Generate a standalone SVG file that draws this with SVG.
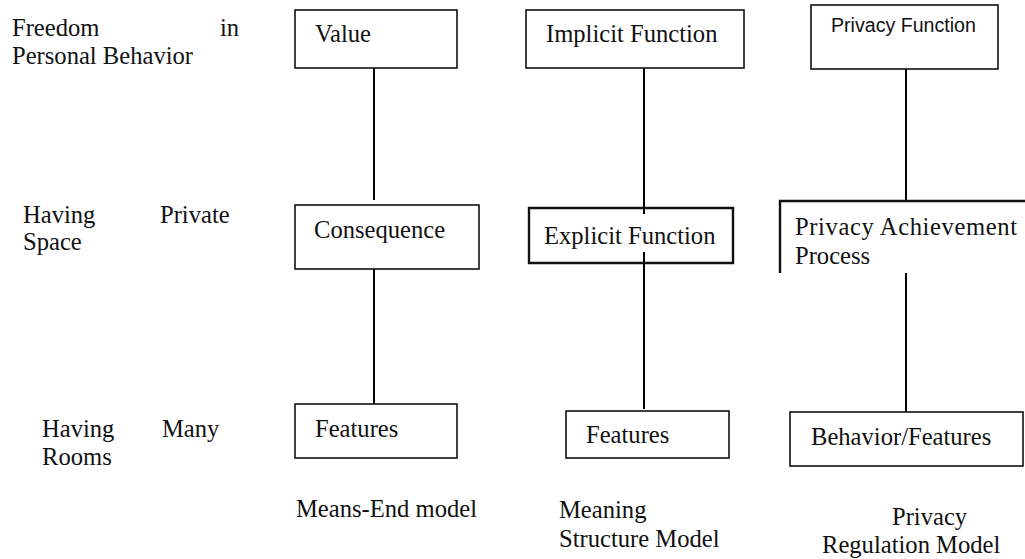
<svg xmlns="http://www.w3.org/2000/svg" width="1025" height="559" viewBox="0 0 1025 559">
<style>
text{font-family:"Liberation Serif",Tinos,"Times New Roman","DejaVu Serif",serif;font-size:24.6px;fill:#111}
text.sans{font-family:"Liberation Sans",Arimo,Arial,sans-serif;font-size:19.6px}
.box{fill:#fff;stroke:#111;stroke-width:1.6}
.conn line{stroke:#000;stroke-width:2}
</style>
<rect width="1025" height="559" fill="#fff"/>
<g id="connectors" class="conn">
<line x1="374" y1="68" x2="374" y2="200"/>
<line x1="374" y1="269" x2="374" y2="404"/>
<line x1="644" y1="68" x2="644" y2="214"/>
<line x1="644" y1="252" x2="644" y2="409"/>
<line x1="906" y1="69" x2="906" y2="201"/>
<line x1="906" y1="273" x2="906" y2="412"/>
</g>
<g id="label-freedom">
<text x="12" y="36">Freedom</text>
<text x="220" y="36">in</text>
<text x="12" y="64">Personal Behavior</text>
</g>
<g id="label-space">
<text x="23" y="223">Having</text>
<text x="160" y="223">Private</text>
<text x="23" y="250">Space</text>
</g>
<g id="label-rooms">
<text x="42" y="437">Having</text>
<text x="162" y="437">Many</text>
<text x="42" y="465">Rooms</text>
</g>
<g id="value">
<rect class="box" x="295" y="10" width="162" height="58"/>
<text x="315" y="42">Value</text>
</g>
<g id="consequence">
<rect class="box" x="295" y="205" width="184" height="64"/>
<text x="314" y="238">Consequence</text>
</g>
<g id="features-me">
<rect class="box" x="295" y="404" width="162" height="54"/>
<text x="315" y="437">Features</text>
</g>
<g id="implicit">
<rect class="box" x="526" y="10" width="218" height="58"/>
<text x="546" y="42">Implicit Function</text>
</g>
<g id="explicit">
<path d="M529,208 H733 V263 H529 Z" fill="none" stroke="#111" stroke-width="2.4"/>
<line x1="644" y1="208" x2="644" y2="214" stroke="#000" stroke-width="2"/>
<line x1="644" y1="252" x2="644" y2="263" stroke="#000" stroke-width="2"/>
<text x="544" y="244">Explicit Function</text>
</g>
<g id="features-ms">
<rect class="box" x="566" y="411" width="163" height="47"/>
<text x="586" y="443">Features</text>
</g>
<g id="privacy-function">
<rect class="box" x="811" y="5" width="187" height="64"/>
<text class="sans" x="831" y="32">Privacy Function</text>
</g>
<g id="achievement">
<path d="M780,273 V201 H1026" fill="none" stroke="#111" stroke-width="2.4"/>
<text x="795" y="235" textLength="222" lengthAdjust="spacing">Privacy  Achievement</text>
<text x="795" y="264">Process</text>
</g>
<g id="behavior-features">
<rect class="box" x="790" y="412" width="233" height="54" stroke-width="2"/>
<text x="811" y="445">Behavior/Features</text>
</g>
<g id="captions">
<text x="296" y="517">Means-End model</text>
<text x="559" y="518">Meaning</text>
<text x="559" y="547">Structure Model</text>
<text x="892" y="525">Privacy</text>
<text x="822" y="553">Regulation Model</text>
</g>
</svg>
